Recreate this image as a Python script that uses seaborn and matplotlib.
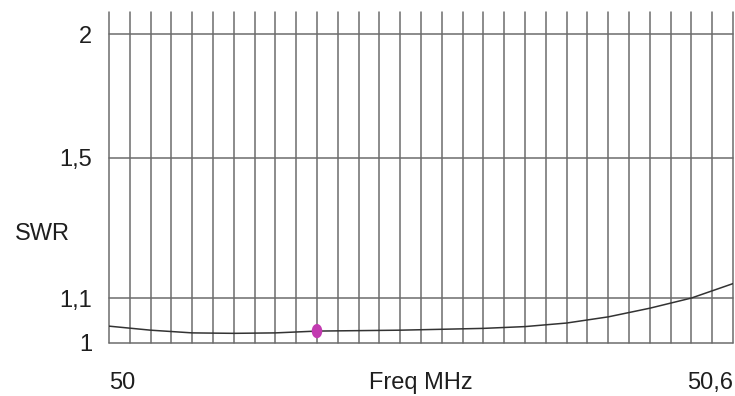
import numpy as np
import pandas as pd
import matplotlib
matplotlib.use("Agg")
import matplotlib.pyplot as plt
from matplotlib.markers import MarkerStyle
from matplotlib.transforms import Affine2D
import seaborn as sns

# Measured SWR across the 6 m band segment
freq_mhz = [50.00, 50.04, 50.08, 50.12, 50.16, 50.20, 50.24, 50.28,
            50.32, 50.36, 50.40, 50.44, 50.48, 50.52, 50.56, 50.60]
swr = [1.036, 1.027, 1.021, 1.020, 1.021, 1.025, 1.026, 1.027,
       1.029, 1.031, 1.035, 1.043, 1.057, 1.077, 1.101, 1.136]

# Marked operating frequency
marker_freq = [50.20]
marker_swr = [1.025]

y_ticks = [1.0, 1.1, 1.5, 2.0]
y_tick_labels = ["1", "1,1", "1,5", "2"]
x_ticks = [50.0, 50.6]
x_tick_labels = ["50", "50,6"]

sns.set_theme(style="white")
plt.rcParams["font.family"] = ["Liberation Sans", "DejaVu Sans"]

df = pd.DataFrame({"freq": freq_mhz, "swr": swr})
mk = pd.DataFrame({"freq": marker_freq, "swr": marker_swr})

fig = plt.figure(figsize=(7.35, 3.96), dpi=100)
ax = fig.add_axes([109 / 735, (396 - 342.5) / 396, 624 / 735, 330.5 / 396])


# SWR axis drawn on a reflection-coefficient scale
def to_rho(s):
    s = np.asarray(s, dtype=float)
    return (s - 1.0) / (s + 1.0)


def from_rho(r):
    r = np.asarray(r, dtype=float)
    return (1.0 + r) / (1.0 - r)


ax.set_yscale("function", functions=(to_rho, from_rho))

grid_color = "#6c6c6c"
for f in np.arange(50.0, 50.6001, 0.02):
    ax.axvline(f, color=grid_color, lw=1.1, zorder=1, clip_on=False)
for s in y_ticks:
    ax.axhline(s, color=grid_color, lw=1.1, zorder=1, clip_on=False)

sns.lineplot(data=df, x="freq", y="swr", ax=ax, color="#333333", lw=1.1, zorder=3)

# slightly tall oval marker
oval = MarkerStyle("o", transform=Affine2D().scale(0.85, 1.15))
sns.scatterplot(data=mk, x="freq", y="swr", ax=ax, color="#c23bb0", s=80,
                marker=oval, edgecolor="none", zorder=4)

ax.set_xlim(50.0, 50.6)
ax.set_ylim(1.0, from_rho((342.5 - 12) / 925))

for sp in ax.spines.values():
    sp.set_visible(False)

ax.set_xticks(x_ticks)
ax.set_xticklabels(x_tick_labels)
ax.set_yticks(y_ticks)
ax.set_yticklabels(y_tick_labels)
ax.minorticks_off()
ax.tick_params(axis="both", length=0, labelsize=17, labelcolor="#1e1e1e")
ax.tick_params(axis="x", pad=21)
ax.tick_params(axis="y", pad=12)
xl = ax.get_xticklabels()
xl[0].set_horizontalalignment("left")
xl[1].set_horizontalalignment("right")

ax.set_xlabel("Freq MHz", fontsize=17, color="#1e1e1e")
ax.xaxis.set_label_coords(0.5, -29.5 / 330.5, transform=ax.transAxes)
ax.xaxis.label.set_verticalalignment("top")

ax.set_ylabel("SWR", fontsize=17, color="#1e1e1e", rotation=0,
              ha="left", va="center")
ax.yaxis.set_label_coords((15 - 109) / 624, (342.5 - 234) / 330.5)

fig.savefig("out.png", dpi=100, facecolor="white")
